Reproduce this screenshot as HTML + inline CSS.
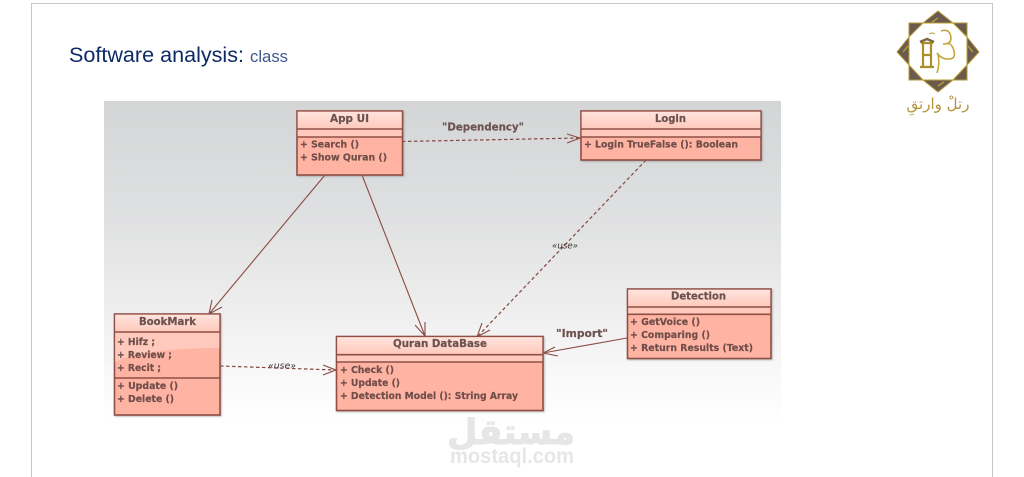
<!DOCTYPE html>
<html lang="en">
<head>
<meta charset="utf-8">
<title>Software analysis: class</title>
<style>
html,body{margin:0;padding:0;background:#fff;width:1024px;height:477px;overflow:hidden}
svg{display:block}
.t{font-family:"DejaVu Sans","Liberation Sans",sans-serif;font-weight:bold;font-size:9.5px;fill:#704e4a;stroke:#704e4a;stroke-width:.2}
.h{font-family:"DejaVu Sans","Liberation Sans",sans-serif;font-weight:bold;font-size:10.500px;fill:#6c5250;stroke:#6c5250;stroke-width:.2}
.u{font-family:"DejaVu Sans","Liberation Sans",sans-serif;font-style:italic;font-size:8.500px;fill:#3f3333}
.box{stroke:#8f4f45;stroke-width:1.600}
.ln{stroke:#8a4c42;stroke-width:1.100;fill:none}
.d{stroke:#83483f;stroke-width:1.200;fill:none;stroke-dasharray:3.500 2.500}
</style>
</head>
<body>
<svg width="1024" height="477" viewBox="0 0 1024 477" xmlns="http://www.w3.org/2000/svg">
<defs>
<linearGradient id="bg" x1="0" y1="0" x2="0" y2="1">
<stop offset="0" stop-color="#d3d5d6"/>
<stop offset="0.35" stop-color="#dfe0e1"/>
<stop offset="0.6" stop-color="#ececec"/>
<stop offset="0.85" stop-color="#f9f9f9"/>
<stop offset="1" stop-color="#ffffff"/>
</linearGradient>
<linearGradient id="hd" x1="0" y1="0" x2="0" y2="1">
<stop offset="0" stop-color="#ffe3dc"/>
<stop offset="1" stop-color="#ffc9bb"/>
</linearGradient>
<filter id="soft" x="-2%" y="-2%" width="104%" height="104%"><feGaussianBlur stdDeviation="0.3"/></filter>
<filter id="sh" x="-5%" y="-5%" width="112%" height="112%"><feDropShadow dx="1" dy="1" stdDeviation="0.8" flood-color="#777" flood-opacity="0.45"/></filter>
</defs>

<rect x="31.500" y="3.500" width="961" height="480" fill="#fff" stroke="#c6c6c6" stroke-width="1"/>

<text x="69" y="62" font-family="'Liberation Sans',sans-serif" font-size="21" fill="#0e2a66" textLength="175" lengthAdjust="spacingAndGlyphs">Software analysis:</text>
<text x="250" y="62" font-family="'Liberation Sans',sans-serif" font-size="17" fill="#40588c" textLength="38" lengthAdjust="spacingAndGlyphs">class</text>

<rect x="104" y="101" width="677" height="325" fill="url(#bg)"/>

<g filter="url(#soft)">
<!-- connectors -->
<path class="d" d="M402 141.500L580 138"/>
<path class="ln" d="M567 134L580 138L567 143"/>
<path class="ln" d="M325 175L209 314"/>
<path class="ln" d="M212 300L209 314L222 307"/>
<path class="ln" d="M362 175L425 336"/>
<path class="ln" d="M425 322L425 336L415 325"/>
<path class="d" d="M646 160L477 337"/>
<path class="ln" d="M482 323L477 337L490 330"/>
<path class="ln" d="M627 338L543 353"/>
<path class="ln" d="M555 347L543 353L558 356"/>
<path class="d" d="M220 366L336 370"/>
<path class="ln" d="M323 365L336 370L323 375"/>

<!-- App UI -->
<g filter="url(#sh)">
<rect x="297" y="111" width="105.500" height="64" fill="#ffb4a3" class="box"/>
<rect x="297.700" y="111.700" width="104" height="17.300" fill="url(#hd)"/>
<rect x="297.700" y="129" width="104" height="8" fill="#ffcabd"/>
</g>
<path class="box" d="M297 129H402.500M297 137H402.500" fill="none"/>
<text class="h" x="330" y="122" textLength="39" lengthAdjust="spacingAndGlyphs">App UI</text>
<text class="t" x="300" y="147.500" textLength="59" lengthAdjust="spacingAndGlyphs">+ Search ()</text>
<text class="t" x="300" y="160.500" textLength="87" lengthAdjust="spacingAndGlyphs">+ Show Quran ()</text>

<!-- Login -->
<g filter="url(#sh)">
<rect x="581" y="111" width="180" height="49" fill="#ffb4a3" class="box"/>
<rect x="581.700" y="111.700" width="178.600" height="17.300" fill="url(#hd)"/>
<rect x="581.700" y="129" width="178.600" height="8" fill="#ffcabd"/>
</g>
<path class="box" d="M581 129H761M581 137H761" fill="none"/>
<text class="h" x="655" y="122" textLength="31" lengthAdjust="spacingAndGlyphs">Login</text>
<text class="t" x="584" y="147.500" textLength="154" lengthAdjust="spacingAndGlyphs">+ Login TrueFalse (): Boolean</text>

<!-- BookMark -->
<g filter="url(#sh)">
<rect x="114.500" y="314" width="105.500" height="101" fill="#ffb4a3" class="box"/>
<rect x="115.200" y="314.700" width="104" height="17.300" fill="url(#hd)"/>
<path d="M115.200 332H219.300V348Q170 348 140 354Q122 358 115.200 362Z" fill="#ffcabd"/>
</g>
<path class="box" d="M114.500 332H220M114.500 378H220" fill="none"/>
<text class="h" x="139" y="325" textLength="57" lengthAdjust="spacingAndGlyphs">BookMark</text>
<text class="t" x="117" y="345" textLength="38" lengthAdjust="spacingAndGlyphs">+ Hifz ;</text>
<text class="t" x="117" y="358" textLength="55" lengthAdjust="spacingAndGlyphs">+ Review ;</text>
<text class="t" x="117" y="371" textLength="44" lengthAdjust="spacingAndGlyphs">+ Recit ;</text>
<text class="t" x="117" y="389" textLength="61" lengthAdjust="spacingAndGlyphs">+ Update ()</text>
<text class="t" x="117" y="402" textLength="57" lengthAdjust="spacingAndGlyphs">+ Delete ()</text>

<!-- Quran DataBase -->
<g filter="url(#sh)">
<rect x="336.500" y="336.500" width="206.500" height="74" fill="#ffb4a3" class="box"/>
<rect x="337.200" y="337.200" width="205" height="17.500" fill="url(#hd)"/>
<rect x="337.200" y="354.700" width="205" height="7.300" fill="#ffcabd"/>
</g>
<path class="box" d="M336.500 354.700H543M336.500 362H543" fill="none"/>
<text class="h" x="393" y="347" textLength="94" lengthAdjust="spacingAndGlyphs">Quran DataBase</text>
<text class="t" x="340" y="373" textLength="54" lengthAdjust="spacingAndGlyphs">+ Check ()</text>
<text class="t" x="340" y="386" textLength="60" lengthAdjust="spacingAndGlyphs">+ Update ()</text>
<text class="t" x="340" y="399" textLength="178" lengthAdjust="spacingAndGlyphs">+ Detection Model (): String Array</text>

<!-- Detection -->
<g filter="url(#sh)">
<rect x="627.500" y="289" width="143.500" height="69.500" fill="#ffb4a3" class="box"/>
<rect x="628.200" y="289.700" width="142" height="17.300" fill="url(#hd)"/>
<rect x="628.200" y="307" width="142" height="7.300" fill="#ffcabd"/>
</g>
<path class="box" d="M627.500 307H771M627.500 314.300H771" fill="none"/>
<text class="h" x="671" y="299.500" textLength="55" lengthAdjust="spacingAndGlyphs">Detection</text>
<text class="t" x="630" y="325" textLength="70" lengthAdjust="spacingAndGlyphs">+ GetVoice ()</text>
<text class="t" x="630" y="338" textLength="80" lengthAdjust="spacingAndGlyphs">+ Comparing ()</text>
<text class="t" x="630" y="351" textLength="123" lengthAdjust="spacingAndGlyphs">+ Return Results (Text)</text>

<!-- labels -->
<text class="h" x="442" y="130.500" textLength="82" lengthAdjust="spacingAndGlyphs">"Dependency"</text>
<text class="h" x="556" y="337" textLength="52" lengthAdjust="spacingAndGlyphs">"Import"</text>
<text class="u" x="552" y="248.500" textLength="26" lengthAdjust="spacingAndGlyphs">«use»</text>
<text class="u" x="268" y="368.500" textLength="28" lengthAdjust="spacingAndGlyphs">«use»</text>
</g>

<!-- logo -->
<g filter="url(#soft)">
<path d="M938 11L953 23H967V37L979 52L967 65V80H953L938 92L923 80H909V65L897 52L909 37V23H923Z" fill="#6a5a50" stroke="#b49a32" stroke-width="1"/>
<path d="M917 30L928 24M959 30L948 24M917 74L928 79M959 74L948 79M903 52L908 46M973 52L968 46M938 18L932 22M938 86L944 82" stroke="#b49a32" stroke-width="1.500" fill="none"/>
<path d="M923 23H953L967 37V65L953 80H923L909 65V37Z" fill="#fff" stroke="#b8a02e" stroke-width="1"/>
<path d="M921 43H933M923 44V66M931 44V66M923 55H931M920 67H934" stroke="#a98f2c" stroke-width="2.200" fill="none"/>
<path d="M920 42L927 39L934 42" stroke="#7a6a45" stroke-width="2.500" fill="none"/>
<path d="M941 31Q950 28 951 38Q951 44 943 44M937 53Q942 60 950 59Q957 58 953 48Q950 42 947 44M938 54Q940 64 937 73" stroke="#c4a63d" stroke-width="1.600" fill="none"/>
<path d="M929 34Q932 32 935 34" stroke="#b49a32" stroke-width="1" fill="none"/>
</g>
<text x="938" y="109" text-anchor="middle" direction="rtl" font-family="'DejaVu Sans',sans-serif" font-size="15" fill="#b3933f">رتلْ وارتقِ</text>

<!-- watermark -->
<text x="511" y="444" text-anchor="middle" direction="rtl" font-family="'DejaVu Sans',sans-serif" font-weight="bold" font-size="35" fill="#e6e6e6" stroke="#e6e6e6" stroke-width="1">مستقل</text>
<text x="512" y="463" text-anchor="middle" font-family="'Liberation Sans',sans-serif" font-weight="bold" font-size="21" fill="#e6e6e6" textLength="124" lengthAdjust="spacingAndGlyphs">mostaql.com</text>
</svg>
</body>
</html>
